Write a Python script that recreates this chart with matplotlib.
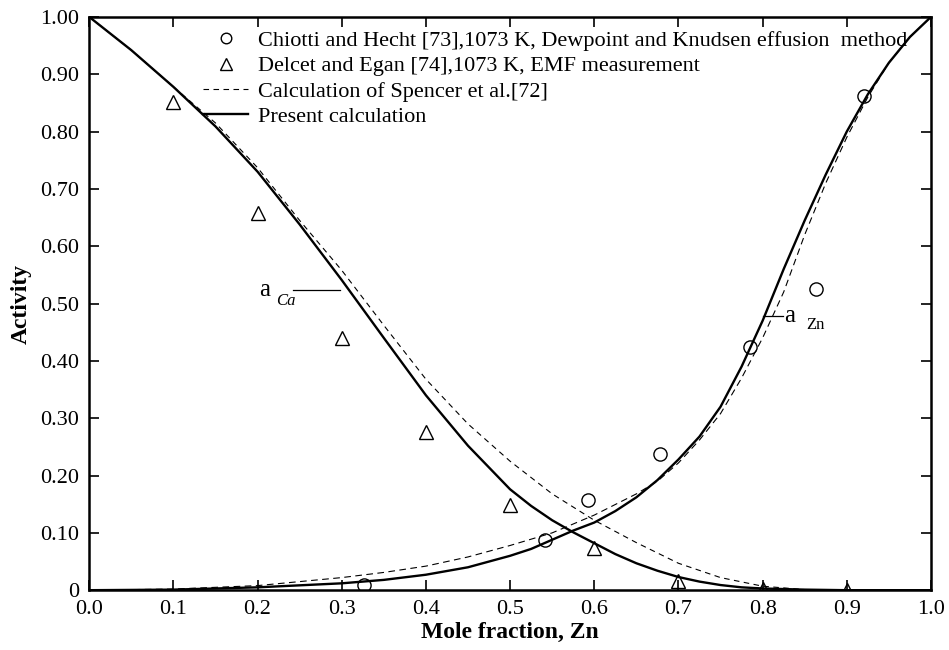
import numpy as np
import matplotlib.pyplot as plt
from matplotlib.ticker import FixedLocator

plt.rcParams['font.family'] = ['Liberation Serif', 'DejaVu Serif']

# activity of Ca - present calculation
x_ca = [0.0, 0.05, 0.1, 0.15, 0.2, 0.25, 0.3, 0.35, 0.4, 0.45, 0.5, 0.525, 0.55, 0.575, 0.6, 0.625,
        0.65, 0.675, 0.7, 0.725, 0.75, 0.775, 0.8, 0.85, 0.9, 1.0]
a_ca = [1.0, 0.942, 0.878, 0.809, 0.73, 0.638, 0.541, 0.44, 0.34, 0.252, 0.176, 0.147, 0.122, 0.101, 0.082, 0.063,
        0.047, 0.034, 0.023, 0.015, 0.009, 0.005, 0.003, 0.001, 0.0, 0.0]
# activity of Ca - Spencer et al.
x_ca_sp = [0.0, 0.05, 0.1, 0.15, 0.2, 0.25, 0.3, 0.35, 0.4, 0.45, 0.5, 0.55, 0.6, 0.65, 0.7, 0.75, 0.8, 0.85, 0.9, 1.0]
a_ca_sp = [1.0, 0.942, 0.878, 0.815, 0.737, 0.645, 0.558, 0.462, 0.368, 0.29, 0.225, 0.168, 0.122, 0.083, 0.047, 0.022, 0.007, 0.001, 0.0, 0.0]

# activity of Zn - present calculation
x_zn = [0.0, 0.1, 0.2, 0.3, 0.35, 0.4, 0.45, 0.5, 0.525, 0.55, 0.575, 0.6, 0.625, 0.65, 0.675, 0.7, 0.725,
        0.75, 0.775, 0.8, 0.825, 0.85, 0.875, 0.9, 0.925, 0.95, 0.975, 1.0]
a_zn = [0.0, 0.001, 0.005, 0.012, 0.018, 0.027, 0.04, 0.06, 0.072, 0.088, 0.104, 0.118, 0.138, 0.162, 0.192, 0.228, 0.268,
        0.32, 0.39, 0.47, 0.56, 0.645, 0.725, 0.80, 0.865, 0.92, 0.965, 1.0]
# activity of Zn - Spencer et al.
x_zn_sp = [0.0, 0.1, 0.2, 0.3, 0.35, 0.4, 0.45, 0.5, 0.55, 0.6, 0.65, 0.675, 0.7, 0.725, 0.75, 0.775, 0.8,
           0.825, 0.85, 0.875, 0.9, 0.925, 0.95, 0.975, 1.0]
a_zn_sp = [0.0, 0.002, 0.008, 0.022, 0.031, 0.042, 0.058, 0.078, 0.1, 0.131, 0.168, 0.19, 0.222, 0.262, 0.308, 0.37, 0.44,
           0.52, 0.62, 0.71, 0.79, 0.86, 0.92, 0.965, 1.0]

# Chiotti and Hecht (circles)
x_ch = [0.326, 0.542, 0.593, 0.678, 0.785, 0.863, 0.92]
y_ch = [0.009, 0.087, 0.157, 0.237, 0.424, 0.525, 0.862]
# Delcet and Egan (triangles)
x_de = [0.1, 0.2, 0.3, 0.4, 0.5, 0.6, 0.7, 0.8, 0.9]
y_de = [0.852, 0.658, 0.44, 0.276, 0.148, 0.073, 0.016, 0.002, 0.0]

xticks = [0.0, 0.1, 0.2, 0.3, 0.4, 0.5, 0.6, 0.7, 0.8, 0.9, 1.0]
xticklabels = ['0.0', '0.1', '0.2', '0.3', '0.4', '0.5', '0.6', '0.7', '0.8', '0.9', '1.0']
yticks = [0.0, 0.1, 0.2, 0.3, 0.4, 0.5, 0.6, 0.7, 0.8, 0.9, 1.0]
yticklabels = ['0', '0.10', '0.20', '0.30', '0.40', '0.50', '0.60', '0.70', '0.80', '0.90', '1.00']

fig = plt.figure(figsize=(9.49, 6.5), dpi=100)
ax = fig.add_axes([0.094, 0.092, 0.887, 0.882])

h_ch, = ax.plot(x_ch, y_ch, 'o', ms=9.5, mfc='none', mec='k', mew=1.0, zorder=4,
                label='Chiotti and Hecht [73],1073 K, Dewpoint and Knudsen effusion  method')
h_de, = ax.plot(x_de, y_de, '^', ms=10, mfc='none', mec='k', mew=1.0, zorder=4,
                label='Delcet and Egan [74],1073 K, EMF measurement')
h_sp, = ax.plot(x_ca_sp, a_ca_sp, color='k', lw=0.8, ls=(0, (5, 4)),
                label='Calculation of Spencer et al.[72]')
ax.plot(x_zn_sp, a_zn_sp, color='k', lw=0.8, ls=(0, (6, 4)))
h_pr, = ax.plot(x_ca, a_ca, color='k', lw=1.7, label='Present calculation')
ax.plot(x_zn, a_zn, color='k', lw=1.7)

# curve labels
ax.plot([0.242, 0.298], [0.523, 0.523], color='k', lw=0.9)
ax.text(0.208, 0.523, 'a', fontsize=18, ha='center', va='center')
ax.text(0.222, 0.505, 'Ca', fontsize=12, style='italic', ha='left', va='center')
ax.plot([0.80, 0.824], [0.478, 0.478], color='k', lw=0.9)
ax.text(0.832, 0.479, 'a', fontsize=18, ha='center', va='center')
ax.text(0.852, 0.462, 'Zn', fontsize=12, ha='left', va='center')

ax.set_xlim(0, 1)
ax.set_ylim(0, 1)
ax.xaxis.set_major_locator(FixedLocator(xticks))
ax.yaxis.set_major_locator(FixedLocator(yticks))
ax.set_xticklabels(xticklabels)
ax.set_yticklabels(yticklabels)
ax.tick_params(direction='in', length=7, width=1.2, top=True, right=True, labelsize=16, pad=7)
for s in ax.spines.values():
    s.set_linewidth(1.8)

ax.set_xlabel('Mole fraction, Zn', fontsize=17, fontweight='bold', labelpad=2)
ax.set_ylabel('Activity', fontsize=17, fontweight='bold', labelpad=6)

ax.legend(handles=[h_ch, h_de, h_sp, h_pr], loc='upper left', bbox_to_anchor=(0.125, 0.992),
          frameon=False, fontsize=16, handlelength=2.0, handletextpad=0.45,
          labelspacing=0.22, borderaxespad=0.0, markerscale=0.8)

plt.savefig('out.png', dpi=100)
